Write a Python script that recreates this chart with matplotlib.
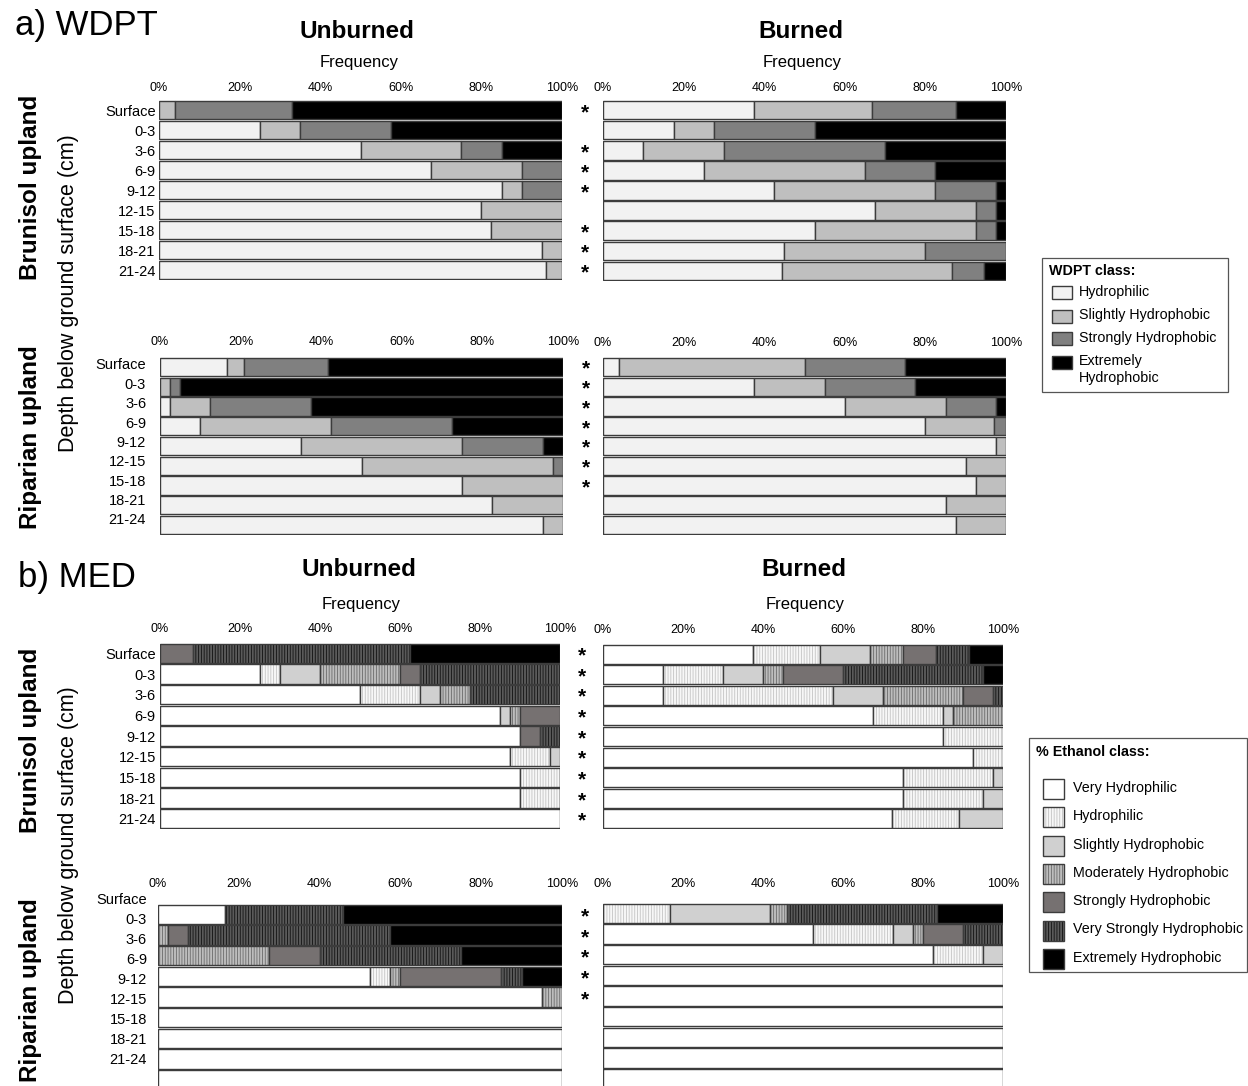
import numpy as np
import matplotlib
matplotlib.use("Agg")
import matplotlib.pyplot as plt
from matplotlib.patches import Rectangle

plt.rcParams['font.family'] = ['Liberation Sans', 'DejaVu Sans']
plt.rcParams['hatch.linewidth'] = 0.6

W, H = 1248, 1086

depths = ['Surface', '0-3', '3-6', '6-9', '9-12', '12-15', '15-18', '18-21', '21-24']
pct_ticks = [0, 20, 40, 60, 80, 100]

# --- WDPT classes ---
wdpt_classes = ['Hydrophilic', 'Slightly Hydrophobic', 'Strongly Hydrophobic', 'Extremely\nHydrophobic']
wdpt_colors = ['#f2f2f2', '#bfbfbf', '#808080', '#000000']

# rows = depth, columns = class frequency (%)
wdpt_unb_brun = [[0, 4, 29, 67], [25, 10, 22.5, 42.5], [50, 25, 10, 15], [67.5, 22.5, 10, 0],
                 [85, 5, 10, 0], [80, 20, 0, 0], [82.5, 17.5, 0, 0], [95, 5, 0, 0], [96, 4, 0, 0]]
wdpt_brn_brun = [[37.5, 29.2, 20.8, 12.5], [17.5, 10, 25, 47.5], [10, 20, 40, 30], [25, 40, 17.5, 17.5],
                 [42.5, 40, 15, 2.5], [67.5, 25, 5, 2.5], [52.5, 40, 5, 2.5], [45, 35, 20, 0],
                 [44.5, 42, 8, 5.5]]
wdpt_unb_rip = [[16.7, 4.1, 20.9, 58.3], [0, 2.5, 2.5, 95], [2.5, 10, 25, 62.5], [10, 32.5, 30, 27.5],
                [35, 40, 20, 5], [50, 47.5, 2.5, 0], [75, 25, 0, 0], [82.5, 17.5, 0, 0], [95, 5, 0, 0]]
wdpt_brn_rip = [[4, 46, 25, 25], [37.5, 17.5, 22.5, 22.5], [60, 25, 12.5, 2.5], [80, 17, 3, 0],
                [97.5, 2.5, 0, 0], [90, 10, 0, 0], [92.5, 7.5, 0, 0], [85, 15, 0, 0], [87.5, 12.5, 0, 0]]

# --- MED (% ethanol) classes ---
med_classes = ['Very Hydrophilic', 'Hydrophilic', 'Slightly Hydrophobic', 'Moderately Hydrophobic',
               'Strongly Hydrophobic', 'Very Strongly Hydrophobic', 'Extremely Hydrophobic']
med_colors = ['#ffffff', '#f7f7f7', '#d0d0d0', '#bdbdbd', '#767171', '#5a5a5a', '#000000']
med_hatches = [None, '||||||', None, '||||||', None, '||||||', None]
med_hatch_colors = [None, '#c4c4c4', None, '#6a6a6a', None, '#111111', None]

med_unb_brun = [[0, 0, 0, 0, 8.3, 54.2, 37.5], [25, 5, 10, 20, 5, 35, 0], [50, 15, 5, 7.5, 0, 22.5, 0],
                [85, 0, 2.5, 2.5, 10, 0, 0], [90, 0, 0, 0, 5, 5, 0], [87.5, 10, 2.5, 0, 0, 0, 0],
                [90, 10, 0, 0, 0, 0, 0], [90, 10, 0, 0, 0, 0, 0], [100, 0, 0, 0, 0, 0, 0]]
med_brn_brun = [[37.5, 16.7, 12.5, 8.3, 8.3, 8.3, 8.4], [15, 15, 10, 5, 15, 35, 5],
                [15, 42.5, 12.5, 20, 7.5, 2.5, 0], [67.5, 17.5, 2.5, 12.5, 0, 0, 0],
                [85, 15, 0, 0, 0, 0, 0], [92.5, 7.5, 0, 0, 0, 0, 0], [75, 22.5, 2.5, 0, 0, 0, 0],
                [75, 20, 5, 0, 0, 0, 0], [72.2, 16.7, 11.1, 0, 0, 0, 0]]
med_unb_rip = [[16.7, 0, 0, 0, 0, 29.1, 54.2], [0, 0, 0, 2.5, 5, 50, 42.5], [0, 0, 0, 27.5, 12.5, 35, 25],
               [52.5, 5, 0, 2.5, 25, 5, 10], [95, 0, 0, 5, 0, 0, 0], [100, 0, 0, 0, 0, 0, 0],
               [100, 0, 0, 0, 0, 0, 0], [100, 0, 0, 0, 0, 0, 0], [100, 0, 0, 0, 0, 0, 0]]
med_brn_rip = [[0, 16.7, 25, 4.2, 0, 37.5, 16.6], [52.5, 20, 5, 2.5, 10, 10, 0],
               [82.5, 12.5, 5, 0, 0, 0, 0], [100, 0, 0, 0, 0, 0, 0], [100, 0, 0, 0, 0, 0, 0],
               [100, 0, 0, 0, 0, 0, 0], [100, 0, 0, 0, 0, 0, 0], [100, 0, 0, 0, 0, 0, 0],
               [100, 0, 0, 0, 0, 0, 0]]

# rows flagged with a significance star
stars_wdpt_brun = [0, 2, 3, 4, 6, 7, 8]
stars_wdpt_rip = [0, 1, 2, 3, 4, 5, 6]
stars_med_brun = [0, 1, 2, 3, 4, 5, 6, 7, 8]
stars_med_rip = [0, 1, 2, 3, 4]

EDGE = '#3c3c3c'


def make_ax(fig, l, t, r, b):
    return fig.add_axes([l / W, 1 - b / H, (r - l) / W, (b - t) / H])


def draw_panel(ax, rows, colors, hatches=None, hatch_colors=None, xpad=5, ypad=3,
               show_labels=True, label_pos=None, stars=None, top_extra=0.0):
    data = np.array(rows, dtype=float)
    y = np.arange(len(data))
    left = np.zeros(len(data))
    for k in range(data.shape[1]):
        w = data[:, k]
        m = w > 0
        hatch = hatches[k] if hatches else None
        hc = hatch_colors[k] if hatch_colors else None
        ax.barh(y[m], w[m], left=left[m], height=0.92, color=colors[k],
                edgecolor=hc if hc else 'none', hatch=hatch, lw=0)
        ax.barh(y[m], w[m], left=left[m], height=0.92, fill=False, edgecolor=EDGE, lw=1)
        left += w
    ax.xaxis.tick_top()
    ax.set_xticks(pct_ticks)
    ax.set_xticklabels([f'{v}%' for v in pct_ticks], fontsize=9)
    ax.tick_params(axis='x', length=0, pad=xpad)
    if show_labels:
        ax.set_yticks(y if label_pos is None else label_pos)
        ax.set_yticklabels(depths, fontsize=10.5)
        ax.tick_params(axis='y', length=0, pad=ypad)
    else:
        ax.set_yticks([])
    # limits after the ticks so shifted labels do not widen the view
    ax.set_xlim(0, 100)
    ax.set_ylim(len(data) - 0.5, -0.5 - top_extra)
    for s in ax.spines.values():
        s.set_visible(False)
    if stars:
        for i in stars:
            ax.text(105.6, i + 0.12, '*', fontsize=15, fontweight='bold', ha='center', va='center',
                    clip_on=False)


fig = plt.figure(figsize=(W / 100, H / 100), dpi=100)

# ---- a) WDPT ----
ax1 = make_ax(fig, 159, 100, 562, 280)
draw_panel(ax1, wdpt_unb_brun, wdpt_colors, xpad=4.5, ypad=2.5, stars=stars_wdpt_brun)
ax2 = make_ax(fig, 603, 100, 1006, 281)
draw_panel(ax2, wdpt_brn_brun, wdpt_colors, xpad=4.5, show_labels=False)
ax3 = make_ax(fig, 160, 357, 563, 535)
draw_panel(ax3, wdpt_unb_rip, wdpt_colors, xpad=6.5, ypad=10,
           label_pos=np.arange(9) * 0.98 - 0.15, stars=stars_wdpt_rip)
ax4 = make_ax(fig, 603, 357, 1006, 535)
draw_panel(ax4, wdpt_brn_rip, wdpt_colors, xpad=6, show_labels=False)

# ---- b) MED ----
ax5 = make_ax(fig, 160, 643, 560, 829)
draw_panel(ax5, med_unb_brun, med_colors, med_hatches, med_hatch_colors, xpad=5.5, ypad=3,
           stars=stars_med_brun)
ax6 = make_ax(fig, 603, 644, 1003, 829)
draw_panel(ax6, med_brn_brun, med_colors, med_hatches, med_hatch_colors, xpad=5.5, show_labels=False)
# riparian MED panel: labels sit a little above their bars, so the axes reach half a row higher
row_px = 186 / 9
ax7 = make_ax(fig, 158, 904 - 0.5 * row_px, 562, 1090)
draw_panel(ax7, med_unb_rip, med_colors, med_hatches, med_hatch_colors, xpad=2.3, ypad=8,
           label_pos=np.arange(9) * 0.965 - 0.75, stars=stars_med_rip, top_extra=0.5)
ax8 = make_ax(fig, 603, 903, 1003, 1089)
draw_panel(ax8, med_brn_rip, med_colors, med_hatches, med_hatch_colors, xpad=9.5, show_labels=False)


# ---- titles and side labels ----
def ftext(x, y, s, **kw):
    return fig.text(x / W, 1 - y / H, s, **kw)


ftext(15, 25, 'a) WDPT', fontsize=25, ha='left', va='center')
ftext(18, 578, 'b) MED', fontsize=25, ha='left', va='center')
for (xu, xb, yt, yf) in [(357, 801, 31, 62), (359, 804, 570, 604)]:
    ftext(xu, yt, 'Unburned', fontsize=17.5, fontweight='bold', ha='center', va='center')
    ftext(xb, yt, 'Burned', fontsize=17.5, fontweight='bold', ha='center', va='center')
    ftext(xu + 2, yf, 'Frequency', fontsize=12, ha='center', va='center')
    ftext(xb + 1, yf, 'Frequency', fontsize=12, ha='center', va='center')

for (yb, yr, yd) in [(187, 437, 293), (740, 990, 845)]:
    ftext(31, yb, 'Brunisol upland', fontsize=17.5, fontweight='bold', rotation=90, ha='center', va='center')
    ftext(31, yr, 'Riparian upland', fontsize=17.5, fontweight='bold', rotation=90, ha='center', va='center')
    ftext(69, yd, 'Depth below ground surface (cm)', fontsize=15.5, rotation=90, ha='center', va='center')


# ---- legends (boxed, built from the class lists) ----
def draw_legend(box, title, labels, colors, hatches, hatch_colors, sw_x, sw_w, sw_h, y0, step,
                text_x, title_y):
    l, t, r, b = box
    fig.add_artist(Rectangle((l / W, 1 - b / H), (r - l) / W, (b - t) / H, transform=fig.transFigure,
                             fill=False, edgecolor='#555555', lw=0.9))
    ftext(l + 7, title_y, title, fontsize=10.3, fontweight='bold', ha='left', va='center')
    for i, lab in enumerate(labels):
        yc = y0 + step * i
        xy = (sw_x / W, 1 - (yc + sw_h / 2) / H)
        wh = (sw_w / W, sw_h / H)
        hc = hatch_colors[i] if hatch_colors else None
        fig.add_artist(Rectangle(xy, *wh, transform=fig.transFigure, facecolor=colors[i],
                                 edgecolor=hc if hc else 'none', hatch=hatches[i] if hatches else None, lw=0))
        fig.add_artist(Rectangle(xy, *wh, transform=fig.transFigure, fill=False, edgecolor=EDGE, lw=1))
        ftext(text_x, yc - 8, lab, fontsize=10.3, ha='left', va='top', linespacing=1.25)


draw_legend((1042, 258, 1228, 392), 'WDPT class:', wdpt_classes, wdpt_colors, None, None,
            sw_x=1052, sw_w=20, sw_h=13, y0=293, step=23, text_x=1079, title_y=271)
draw_legend((1029, 738, 1247, 972), '% Ethanol class:', med_classes, med_colors, med_hatches,
            med_hatch_colors, sw_x=1043, sw_w=21, sw_h=20, y0=789, step=28.3, text_x=1073, title_y=752)

fig.savefig('out.png', dpi=100)
